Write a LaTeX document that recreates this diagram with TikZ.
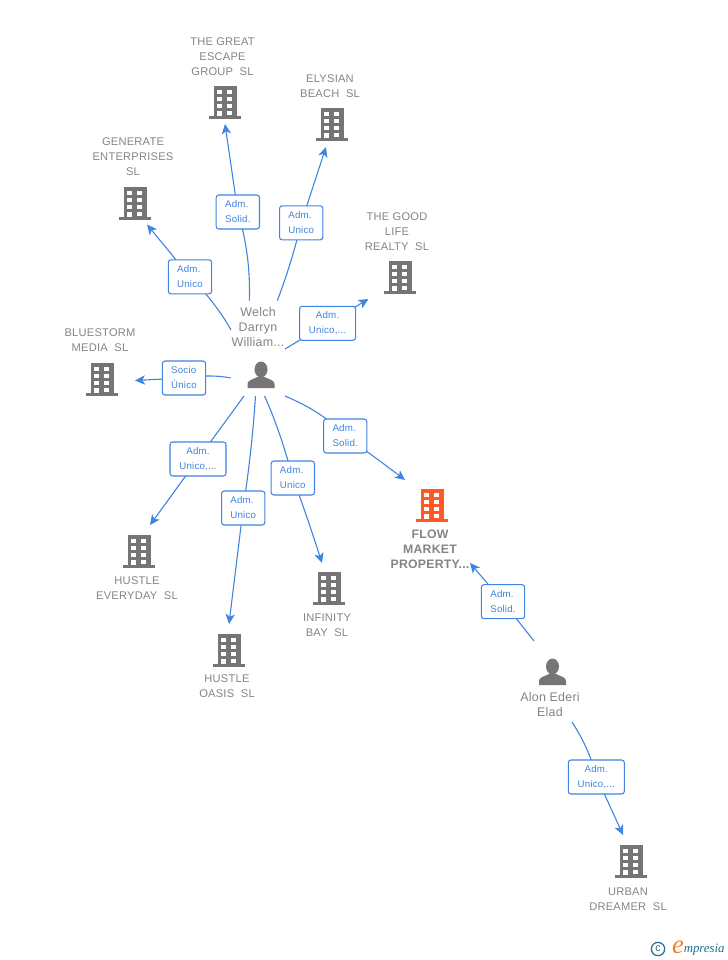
\documentclass[tikz,border=0pt]{standalone}
\usepackage{fontspec}
\setmainfont[LetterSpace=2]{Liberation Sans}
\newfontfamily\logofont{Liberation Serif}
\usetikzlibrary{arrows.meta,backgrounds,calc}
\definecolor{edgeblue}{HTML}{3F84E0}
\definecolor{lbltext}{HTML}{3F84E0}
\definecolor{icongray}{HTML}{757575}
\definecolor{txtgray}{HTML}{848484}
\definecolor{flowred}{HTML}{FF5A26}
\definecolor{logoteal}{HTML}{1F6F8B}
\definecolor{logoorange}{HTML}{F58220}
\newcommand{\qedge}[4][ledge]{\draw[#1] (#2) .. controls ($(#2)!0.667!(#3)$) and ($(#4)!0.667!(#3)$) .. (#4);}
\tikzset{
  x=0.75pt,y=-0.75pt,
  ledge/.style={draw=edgeblue,line width=0.82pt},
  arr/.style={ledge,-{Stealth[length=7.5pt,width=7pt,inset=2pt]}},
  lbl/.style={draw=edgeblue,fill=white,rounded corners=2pt,line width=0.8pt,
    text=lbltext,inner sep=0pt,minimum height=25.5pt,
    execute at begin node={\vspace*{1.4pt}},
    font=\fontsize{7.3}{11.25}\selectfont},
  lblw/.style={lbl,align=left,minimum width=32.5pt},
  lblx/.style={lbl,align=center,minimum width=42pt},
  capt/.style={text=txtgray,align=center,inner sep=0pt,font=\fontsize{8.35}{11.25}\selectfont},
  pcap/.style={capt,font=\fontsize{9.35}{11.25}\selectfont},
  fcap/.style={capt,font=\bfseries\fontsize{9.2}{11.25}\selectfont},
  bld/.pic={
    \fill[pic actions] (-11.5,-33.5) rectangle (11.5,-1);
    \fill[pic actions] (-16,-3.2) rectangle (16,0);
    \foreach \yy in {-29.5,-22.5,-15.5}{
      \fill[white] (-7.7,\yy) rectangle (-3,\yy+4.3);
      \fill[white] (2,\yy) rectangle (6.7,\yy+4.3);
    }
    \fill[white] (-7.7,-8.5) rectangle (-3,-2.8);
    \fill[white] (2,-8.5) rectangle (6.7,-4);
  },
  man/.pic={
    \fill[icongray] (0,-18.5) ellipse (6.5 and 8);
    \fill[icongray] (-13.5,0) -- (-13.5,-4) .. controls (-13.5,-8) and (-8,-8.5) .. (-3.5,-11)
      -- (3.5,-11) .. controls (8,-8.5) and (13.5,-8) .. (13.5,-4) -- (13.5,0) -- cycle;
  }
}
\begin{document}
\begin{tikzpicture}
\useasboundingbox (0,0) rectangle (728,960);

% icons
\pic[fill=icongray] (ib1) at (225,119) {bld};
\pic[fill=icongray] (ib2) at (332,141) {bld};
\pic[fill=icongray] (ib3) at (135,220) {bld};
\pic[fill=icongray] (ib4) at (400,294) {bld};
\pic[fill=icongray] (ib5) at (102,396) {bld};
\pic[fill=icongray] (ib6) at (139,568) {bld};
\pic[fill=icongray] (ib7) at (229,667) {bld};
\pic[fill=icongray] (ib8) at (329,605) {bld};
\pic[fill=flowred] (ib9) at (432,522) {bld};
\pic[fill=icongray] (ib10) at (631,878) {bld};
\pic (im1) at (261,388) {man};
\pic (im2) at (552.5,685) {man};

% captions
\node[capt] (c1) at (222.5,56.5) {THE GREAT\\ESCAPE\\GROUP~~SL};
\node[capt] (c2) at (330,86) {ELYSIAN\\BEACH~~SL};
\node[capt] (c3) at (133,156.5) {GENERATE\\ENTERPRISES\\SL};
\node[capt] (c4) at (397,231.5) {THE GOOD\\LIFE\\REALTY~~SL};
\node[capt] (c5) at (100,340) {BLUESTORM\\MEDIA~~SL};
\node[capt] (c6) at (137,588) {HUSTLE\\EVERYDAY~~SL};
\node[capt] (c7) at (227,686.5) {HUSTLE\\OASIS~~SL};
\node[capt] (c8) at (327,625) {INFINITY\\BAY~~SL};
\node[fcap] (c9) at (430,549) {FLOW\\MARKET\\PROPERTY...};
\node[capt] (c10) at (628,899) {URBAN\\DREAMER~~SL};
\node[pcap] (p1) at (258,327) {Welch\\Darryn\\William...};
\node[pcap] (p2) at (550,705) {Alon Ederi\\Elad};

% labels
\node[lblw] (l1) at (237.8,212) {Adm.\\Solid.};
\node[lblw] (l2) at (301.2,222.8) {Adm.\\Unico};
\node[lblw] (l3) at (190,276.8) {Adm.\\Unico};
\node[lblx] (l4) at (327.6,323.3) {Adm.\\Unico,...};
\node[lblw] (l5) at (184,378) {Socio\\Único};
\node[lblx] (l6) at (198,459) {Adm.\\Unico,...};
\node[lblw] (l7) at (243.2,508) {Adm.\\Unico};
\node[lblw] (l8) at (292.8,478) {Adm.\\Unico};
\node[lblw] (l9) at (345.2,436) {Adm.\\Solid.};
\node[lblw] (l10) at (503,601.7) {Adm.\\Solid.};
\node[lblx] (l11) at (596.3,777) {Adm.\\Unico,...};

% free ends
\coordinate (s1) at (249.3,300.7); \coordinate (t1) at (225,124);
\coordinate (s2) at (277.3,300.7); \coordinate (t2) at (326,147);
\coordinate (s3) at (231,330);     \coordinate (t3) at (147,224.5);
\coordinate (s4) at (285,349);     \coordinate (t4) at (368.5,299);
\coordinate (s5) at (230.7,378);   \coordinate (t5) at (135,380.5);
\coordinate (s6) at (244,396);     \coordinate (t6) at (150,525);
\coordinate (s7) at (255.5,396);   \coordinate (t7) at (229,624);
\coordinate (s8) at (264.5,396);   \coordinate (t8) at (322,563);
\coordinate (s9) at (285,396);     \coordinate (t9) at (405,480);
\coordinate (s10) at (534,641);    \coordinate (t10) at (470,563);
\coordinate (s11) at (572,722);    \coordinate (t11) at (623,835);

\begin{scope}[on background layer]
\qedge{s1}{251,255}{l1.center}
\qedge{s2}{292,262}{l2.center}
\qedge{s3}{216,303}{l3.center}
\draw[ledge] (s4) -- (l4.center);
\qedge{s5}{212,374}{l5.center}
\draw[ledge] (s6) -- (l6.center);
\qedge{s7}{252,450}{l7.center}
\qedge{s8}{280,430}{l8.center}
\qedge{s9}{325,413}{l9.center}
\draw[ledge] (s10) -- (l10.center);
\qedge{s11}{590,750}{l11.center}
\draw[arr] (l1.center) -- (t1);
\draw[arr] (l2.center) -- (t2);
\draw[arr] (l3.center) -- (t3);
\draw[arr] (l4.center) -- (t4);
\draw[arr] (l5.center) -- (t5);
\draw[arr] (l6.center) -- (t6);
\draw[arr] (l7.center) -- (t7);
\qedge[arr]{l8.center}{305,510}{t8}
\qedge[arr]{l9.center}{375,457}{t9}
\draw[arr] (l10.center) -- (t10);
\qedge[arr]{l11.center}{605,795}{t11}
\end{scope}

% logo
\node[draw=logoteal,line width=0.9pt,circle,inner sep=0pt,minimum size=10pt,text=logoteal,
  font=\fontsize{8}{8}\selectfont] (lg1) at (658,949) {c};
\node[text=logoorange,inner sep=0pt,font=\logofont\itshape\fontsize{20}{20}\selectfont] (lg2) at (678,947) {e};
\node[text=logoteal,anchor=west,inner sep=0pt,font=\logofont\itshape\fontsize{9.6}{10}\selectfont] (lg3) at (683.5,950) {mpresia};
\end{tikzpicture}
\end{document}
